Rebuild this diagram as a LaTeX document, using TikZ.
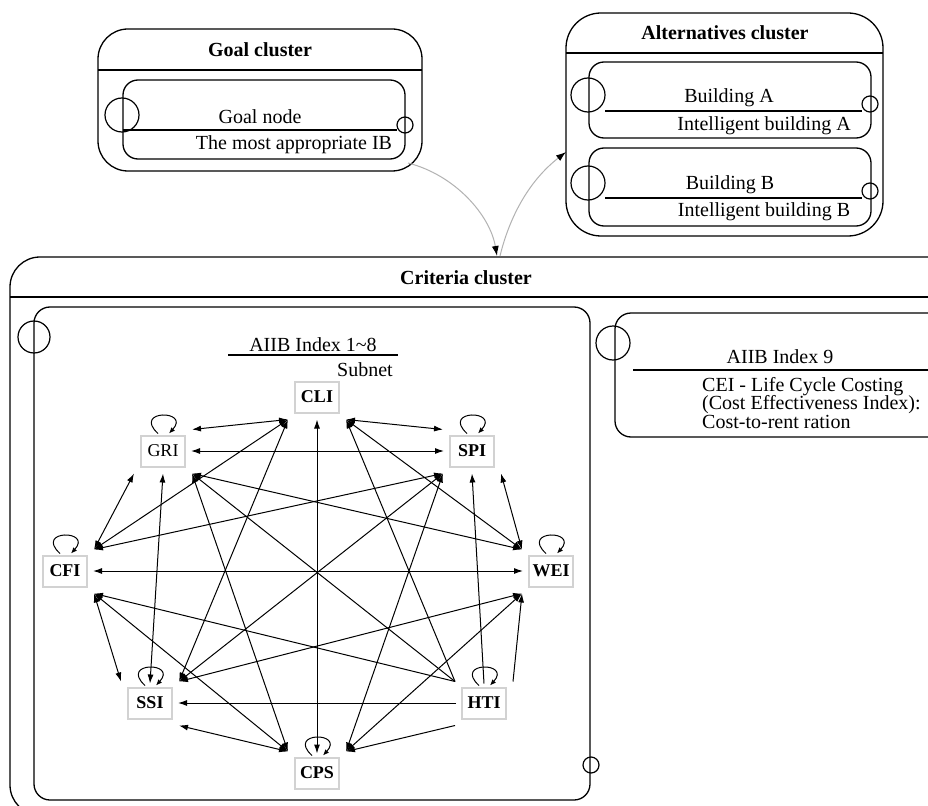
\documentclass[tikz,border=0pt]{standalone}
\usepackage{fontspec}
\setmainfont{Liberation Serif}
\usetikzlibrary{arrows.meta,calc}
\begin{document}
\begin{tikzpicture}[x=1pt,y=-1pt,
  box/.style={draw=black,line width=1.3pt,rounded corners=#1},
  ring/.style={draw=black,line width=1.2pt},
  sep/.style={draw=black,line width=1.3pt},
  crit/.style={draw=gray!35,line width=2pt,fill=white,minimum width=44pt,minimum height=31pt,inner sep=2pt,font=\fontsize{18}{20}\selectfont\bfseries},
  critn/.style={crit,font=\fontsize{18}{20}\selectfont},
  lbl/.style={font=\fontsize{20}{24}\selectfont,inner sep=0pt},
  blbl/.style={font=\fontsize{20}{24}\selectfont\bfseries,inner sep=0pt},
  one/.style={line width=1pt,-{Latex[length=9pt,width=6pt]}},
  two/.style={line width=1pt,{Latex[length=9pt,width=6pt]}-{Latex[length=9pt,width=6pt]}},
  selfloop/.style={line width=1pt,-{Latex[length=6pt,width=5pt]}},
  link/.style={draw=gray!60,line width=1pt,-{Latex[length=10pt,width=7pt,color=black]}}
]
\useasboundingbox (0,0) rectangle (928,805);
\fill[white] (0,0) rectangle (928,805);
\clip (0,0) rectangle (928,805);

% ---------- Goal cluster ----------
\draw[box=30pt] (98,29) rectangle (422,171);
\draw[sep] (98,70) -- (422,70);
\node[blbl] (goalT) at (260,50) {Goal cluster};
\draw[box=15pt] (123,80) rectangle (405,159);
\draw[ring] (122,115) circle[radius=17pt];
\draw[ring] (405,125) circle[radius=8pt];
\draw[sep] (123,130) -- (397,130);
\node[lbl] (goalN) at (260,117) {Goal node};
\node[lbl] (goalD) at (294,145) {The most appropriate IB};

% ---------- Alternatives cluster ----------
\draw[box=35pt] (566,13) rectangle (883,236);
\draw[sep] (566,53) -- (883,53);
\node[blbl] (altT) at (725,33) {Alternatives cluster};
\draw[box=15pt] (589,62) rectangle (871,138);
\draw[ring] (588,95) circle[radius=17pt];
\draw[ring] (870,104) circle[radius=8pt];
\draw[sep] (605,111) -- (862,111);
\node[lbl] (altA) at (729,98) {Building A};
\node[lbl] (altAd) at (764,126) {Intelligent building A};
\draw[box=15pt] (589,148) rectangle (871,226);
\draw[ring] (588,183) circle[radius=17pt];
\draw[ring] (870,191) circle[radius=8pt];
\draw[sep] (605,198) -- (862,198);
\node[lbl] (altB) at (730,185) {Building B};
\node[lbl] (altBd) at (764,212) {Intelligent building B};

% ---------- Criteria cluster ----------
\draw[box=30pt] (10,257) rectangle (980,815);
\draw[sep] (10,297) -- (928,297);
\node[blbl] (critT) at (466,278) {Criteria cluster};

% subnet
\draw[box=16pt] (34,307) rectangle (590,800);
\draw[ring] (34,337) circle[radius=16pt];
\draw[ring] (591,765) circle[radius=8pt];
\node[lbl] (subT) at (313,345) {AIIB Index 1\textasciitilde8};
\draw[sep] (228,355) -- (398,355);
\node[lbl] (subN) at (365,370) {Subnet};

% index 9
\draw[box=16pt] (615,313) rectangle (980,437);
\draw[ring] (613,343) circle[radius=17pt];
\draw[sep] (633,370) -- (928,370);
\node[lbl] (i9T) at (780,357) {AIIB Index 9};
\node[lbl,anchor=west] (i9a) at (702,387) {CEI - Life Cycle Costing};
\node[lbl,anchor=west] (i9b) at (702,405) {(Cost Effectiveness Index):};
\node[lbl,anchor=west] (i9c) at (702,422) {Cost-to-rent ration};

% ---------- inter-cluster links ----------
\coordinate (goalout) at (408,163);
\coordinate (critin) at (497,256);
\coordinate (critout) at (500,256);
\coordinate (altin) at (566,152);
\draw[link] (goalout) .. controls (455,175) and (490,215) .. (critin);
\draw[link] (critout) .. controls (510,215) and (530,180) .. (altin);

% ---------- subnet nodes ----------
\node[crit]  (CLI) at (317,397) {CLI};
\node[critn] (GRI) at (163,451) {GRI};
\node[crit]  (SPI) at (472,451) {SPI};
\node[crit]  (CFI) at (65,571) {CFI};
\node[crit]  (WEI) at (551,571) {WEI};
\node[crit]  (SSI) at (150,703) {SSI};
\node[crit]  (HTI) at (484,703) {HTI};
\node[crit]  (CPS) at (317,773) {CPS};

\foreach \n in {CLI,GRI,SPI,CFI,WEI,SSI,HTI,CPS}{
  \coordinate (\n-tl) at ($(\n.north west)+(-6,-5)$);
  \coordinate (\n-t)  at ($(\n.north)+(0,-3)$);
  \coordinate (\n-tr) at ($(\n.north east)+(6,-5)$);
  \coordinate (\n-l)  at ($(\n.west)+(-5,0)$);
  \coordinate (\n-r)  at ($(\n.east)+(5,0)$);
  \coordinate (\n-bl) at ($(\n.south west)+(-6,6)$);
  \coordinate (\n-b)  at ($(\n.south)+(0,6)$);
  \coordinate (\n-br) at ($(\n.south east)+(6,6)$);
}

% edges
\draw[two] (CLI-bl) -- (GRI-tr);
\draw[two] (CLI-br) -- (SPI-tl);
\draw[two] (GRI-r) -- (SPI-l);
\draw[two] (CFI-r) -- (WEI-l);
\draw[one] (HTI-l) -- (SSI-r);
\draw[two] (SSI-br) -- (CPS-tl);
\draw[one] (HTI-bl) -- (CPS-tr);
\draw[two] (CPS-t) -- (CLI-b);
\draw[two] (GRI-bl) -- (CFI-tr);
\draw[two] (SPI-br) -- (WEI-tl);
\draw[two] (CFI-br) -- (SSI-tl);
\draw[one] (HTI-tr) -- (WEI-bl);
\draw[two] (GRI-b) -- (SSI-t);
\draw[one] (HTI-t) -- (SPI-b);
\draw[two] (CLI-bl) -- (CFI-tr);
\draw[two] (CLI-bl) -- (SSI-tr);
\draw[two] (CLI-br) -- (WEI-tl);
\draw[one] (HTI-tl) -- (CLI-br);
\draw[two] (GRI-br) -- (WEI-tl);
\draw[two] (GRI-br) -- (CPS-tl);
\draw[one] (HTI-tl) -- (GRI-br);
\draw[two] (SPI-bl) -- (CFI-tr);
\draw[two] (SPI-bl) -- (SSI-tr);
\draw[two] (SPI-bl) -- (CPS-tr);
\draw[one] (HTI-tl) -- (CFI-br);
\draw[two] (CFI-br) -- (CPS-tl);
\draw[two] (WEI-bl) -- (SSI-tr);
\draw[two] (WEI-bl) -- (CPS-tr);

% self loops
\foreach \n in {GRI,SPI,CFI,WEI,SSI,HTI,CPS}{
  \draw[selfloop] ($(\n.north)+(-5,-1)$) .. controls +(-26,-24) and +(22,-24) .. ($(\n.north)+(6,-1)$);
}
\end{tikzpicture}
\end{document}
